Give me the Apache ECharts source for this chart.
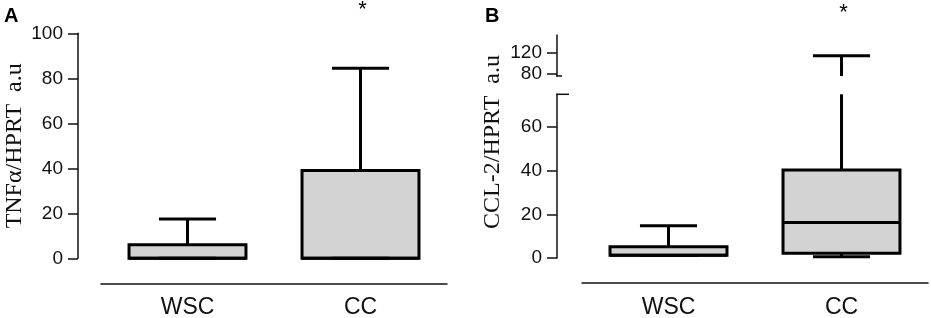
<!DOCTYPE html>
<html>
<head>
<meta charset="utf-8">
<script src="https://cdn.jsdelivr.net/npm/echarts@6/dist/echarts.min.js"></script>
<style>
  html, body { margin: 0; padding: 0; background: #fff; }
  #main { width: 931px; height: 318px; }
</style>
</head>
<body>
<div id="main"></div>
<script>
// categories
var categories = ['WSC', 'CC'];

// A: TNFa/HPRT (box: min, q1, median, q3, max)
var tnfMin = [0, 0];
var tnfQ1 = [0, 0];
var tnfMedian = [0, 0];
var tnfQ3 = [6, 39];
var tnfMax = [17.5, 84.5];

// B: CCL-2/HPRT
var cclMin = [1.2, 0.6];
var cclQ1 = [1.3, 2.2];
var cclMedian = [1.3, 16.3];
var cclQ3 = [5.2, 40.3];
var cclMax = [14.8, 113.5];

// tick labels
var ticksA = [0, 20, 40, 60, 80, 100];
var ticksBLow = [0, 20, 40, 60];
var ticksBHigh = [80, 120];
var signif = ['', '*'];

var SANS = 'Liberation Sans, Arial, sans-serif';
var SERIF = 'Liberation Serif, Times New Roman, serif';
var INK = '#111';

// layout
var gA = {left: 101, top: 33.3, width: 346, height: 225, outerBoundsMode: 'none'};
var gBLow = {left: 582, top: 94.3, width: 346, height: 163.7, outerBoundsMode: 'none'};
var gBHigh = {left: 582, top: 35, width: 346, height: 41, outerBoundsMode: 'none'};
var breakAt = 75, highMax = 153;
var yOffA = 23, yOffB = 25;

function rows(mn, q1, md, q3, mx) {
    return categories.map(function (c, i) {
        return [i, mn[i], q1[i], md[i], q3[i], mx[i]];
    });
}

function boxSeries(xIdx, yIdx, data, lo, hi) {
    return {
        type: 'custom',
        xAxisIndex: xIdx,
        yAxisIndex: yIdx,
        data: data,
        encode: {x: 0, y: [1, 2, 3, 4, 5]},
        clip: false,
        silent: true,
        renderItem: function (params, api) {
            var c = api.value(0), mn = api.value(1), q1 = api.value(2),
                md = api.value(3), q3 = api.value(4), mx = api.value(5);
            var cx = api.coord([c, lo])[0];
            var band = api.size([1, 0])[0];
            var bw = band * 0.676, cw = band * 0.33;
            function py(v) { return api.coord([c, Math.max(lo, Math.min(hi, v))])[1]; }
            function inSeg(v) { return v >= lo && v <= hi; }
            var ln = {stroke: '#000', lineWidth: 3};
            var kids = [];
            if (mx > lo && q3 < hi) {
                kids.push({type: 'line', shape: {x1: cx, y1: py(q3), x2: cx, y2: py(mx)}, style: ln});
            }
            if (mn < hi && q1 > lo) {
                kids.push({type: 'line', shape: {x1: cx, y1: py(q1), x2: cx, y2: py(mn)}, style: ln});
            }
            if (q3 > lo && q1 < hi) {
                kids.push({
                    type: 'rect',
                    shape: {x: cx - bw / 2, y: py(q3), width: bw, height: py(q1) - py(q3)},
                    style: {fill: '#d3d3d3', stroke: '#000', lineWidth: 3}
                });
            }
            if (inSeg(md)) {
                kids.push({type: 'line', shape: {x1: cx - bw / 2, y1: py(md), x2: cx + bw / 2, y2: py(md)}, style: ln});
            }
            if (inSeg(mx)) {
                kids.push({type: 'line', shape: {x1: cx - cw / 2, y1: py(mx), x2: cx + cw / 2, y2: py(mx)}, style: ln});
            }
            if (inSeg(mn)) {
                kids.push({type: 'line', shape: {x1: cx - cw / 2, y1: py(mn), x2: cx + cw / 2, y2: py(mn)}, style: ln});
            }
            return {type: 'group', children: kids};
        }
    };
}

var axisLineStyle = {color: INK, width: 1.5};

function catAxis(gi, show) {
    return {
        gridIndex: gi,
        type: 'category',
        data: categories,
        show: show,
        offset: 25,
        axisLine: {onZero: false, lineStyle: axisLineStyle},
        axisTick: {alignWithLabel: true, length: 9, lineStyle: axisLineStyle},
        axisLabel: {color: INK, fontFamily: SANS, fontSize: 23, margin: 13},
        splitLine: {show: false}
    };
}

function valAxis(gi, min, max, ticks, extra) {
    var ax = {
        gridIndex: gi,
        type: 'value',
        min: min,
        max: max,
        offset: yOffA,
        axisLine: {show: true, onZero: false, lineStyle: axisLineStyle},
        axisTick: {show: true, length: 10, lineStyle: axisLineStyle, customValues: ticks},
        axisLabel: {color: INK, fontFamily: SANS, fontSize: 19, margin: 15, customValues: ticks},
        splitLine: {show: false}
    };
    return Object.assign(ax, extra || {});
}

function center(g, i) {
    return g.left + g.width * (i + 0.5) / categories.length;
}

// broken-axis marks on panel B
var axBx = gBLow.left - yOffB;
var lowTopY = gBLow.top;
var highBotY = gBHigh.top + gBHigh.height;

var graphics = [
    {type: 'text', x: 4, y: 16, style: {text: 'A', x: 0, y: 0, fill: '#000', font: 'bold 20px ' + SANS, textVerticalAlign: 'middle'}},
    {type: 'text', x: 485, y: 16, style: {text: 'B', x: 0, y: 0, fill: '#000', font: 'bold 20px ' + SANS, textVerticalAlign: 'middle'}},
    {type: 'text', x: 493, y: 142, rotation: Math.PI / 2,
        style: {text: 'CCL-2/HPRT  a.u', x: 0, y: 0, fill: INK, font: '24px ' + SERIF, textAlign: 'center', textVerticalAlign: 'middle'}},
    {type: 'line', shape: {x1: axBx - 0.75, y1: lowTopY, x2: axBx + 12, y2: lowTopY}, style: {stroke: INK, lineWidth: 1.5}},
    {type: 'line', shape: {x1: axBx - 0.75, y1: highBotY, x2: axBx + 5, y2: highBotY}, style: {stroke: INK, lineWidth: 1.5}}
];
signif.forEach(function (s, i) {
    if (!s) return;
    graphics.push({type: 'text', x: center(gA, i) + 2, y: 10, style: {text: s, x: 0, y: 0, fill: '#000', font: '22px ' + SANS, textAlign: 'center', textVerticalAlign: 'middle'}});
    graphics.push({type: 'text', x: center(gBLow, i) + 2, y: 13, style: {text: s, x: 0, y: 0, fill: '#000', font: '22px ' + SANS, textAlign: 'center', textVerticalAlign: 'middle'}});
});

var chart = echarts.init(document.getElementById('main'), null, {renderer: 'canvas'});
var option = {
    animation: false,
    backgroundColor: '#fff',
    grid: [gA, gBLow, gBHigh],
    xAxis: [catAxis(0, true), catAxis(1, true), catAxis(2, false)],
    yAxis: [
        valAxis(0, 0, 100, ticksA, {
            name: 'TNF\u03b1/HPRT  a.u',
            nameLocation: 'middle',
            nameGap: 51,
            nameTextStyle: {color: INK, fontFamily: SERIF, fontSize: 24}
        }),
        valAxis(1, 0, breakAt, ticksBLow, {offset: yOffB}),
        valAxis(2, breakAt, highMax, ticksBHigh, {offset: yOffB})
    ],
    graphic: graphics,
    series: [
        boxSeries(0, 0, rows(tnfMin, tnfQ1, tnfMedian, tnfQ3, tnfMax), 0, 100),
        boxSeries(1, 1, rows(cclMin, cclQ1, cclMedian, cclQ3, cclMax), 0, breakAt),
        boxSeries(2, 2, rows(cclMin, cclQ1, cclMedian, cclQ3, cclMax), breakAt, highMax)
    ]
};
chart.setOption(option);
</script>
</body>
</html>
